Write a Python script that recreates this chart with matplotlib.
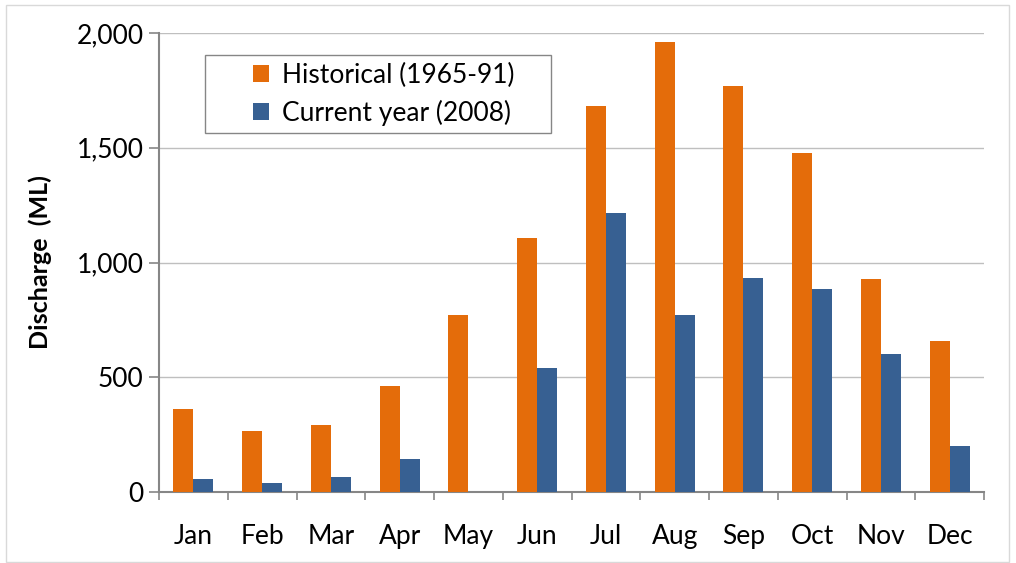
import matplotlib
matplotlib.use("Agg")
import matplotlib.pyplot as plt
import numpy as np
from matplotlib.patches import Rectangle

months = ["Jan", "Feb", "Mar", "Apr", "May", "Jun", "Jul", "Aug", "Sep", "Oct", "Nov", "Dec"]
historical = [362, 266, 292, 462, 771, 1107, 1682, 1961, 1768, 1477, 926, 658]
current = [57, 39, 65, 144, 0, 540, 1216, 771, 932, 885, 601, 200]
yticks = [0, 500, 1000, 1500, 2000]
ytick_labels = ["0", "500", "1,000", "1,500", "2,000"]

plt.rcParams['font.family'] = ['Lato', 'DejaVu Sans']

W, H = 1016, 563
fig = plt.figure(figsize=(W / 100, H / 100), dpi=100)
fig.patches.append(Rectangle((6 / W, 1 - 562 / H), 1003 / W, 557 / H, transform=fig.transFigure,
                             fill=False, edgecolor="#d9d9d9", linewidth=1.0))

ax = fig.add_axes([159 / W, 1 - 492 / H, 825 / W, 459 / H])
x = np.arange(len(months))
bw = 0.29
ax.bar(x - bw / 2, historical, bw, color="#E46C0A", label="Historical (1965-91)", zorder=3)
ax.bar(x + bw / 2, current, bw, color="#376092", label="Current year (2008)", zorder=3)

fs = 19
ax.set_xlim(-0.5, len(months) - 0.5)
ax.set_ylim(0, 2000)
ax.set_yticks(yticks)
ax.set_yticklabels(ytick_labels, fontsize=fs)
ax.set_xticks(x)
ax.set_xticklabels(months, fontsize=fs)
ax.tick_params(axis="x", length=0, pad=23)
ax.set_xticks(np.arange(-0.5, len(months)), minor=True)
ax.tick_params(axis="x", which="minor", length=6, color="#868686", width=1.2)
ax.tick_params(axis="y", length=7, color="#868686", width=1.2, pad=4)
ax.grid(axis="y", color="#bfbfbf", linewidth=1.0, zorder=0)
for s in ["top", "right"]:
    ax.spines[s].set_visible(False)
for s in ["left", "bottom"]:
    ax.spines[s].set_color("#868686")
    ax.spines[s].set_linewidth(1.5)

ax.set_ylabel("Discharge  (ML)", fontsize=18, fontweight="bold", labelpad=18)

# legend frame box
ax.add_patch(Rectangle((205 / W, 1 - 133 / H), 346 / W, 78 / H, transform=fig.transFigure,
                       facecolor="white", edgecolor="#868686", linewidth=1.0, zorder=4, clip_on=False))
leg = ax.legend(loc="center", bbox_to_anchor=((384 - 159) / 825, (492 - 94) / 459),
                frameon=False, fontsize=fs,
                handlelength=0.6, handleheight=0.6, handletextpad=0.5, borderaxespad=0, labelspacing=0.45,
                borderpad=0.0)
leg.set_zorder(5)

fig.savefig("out.png", dpi=100)
